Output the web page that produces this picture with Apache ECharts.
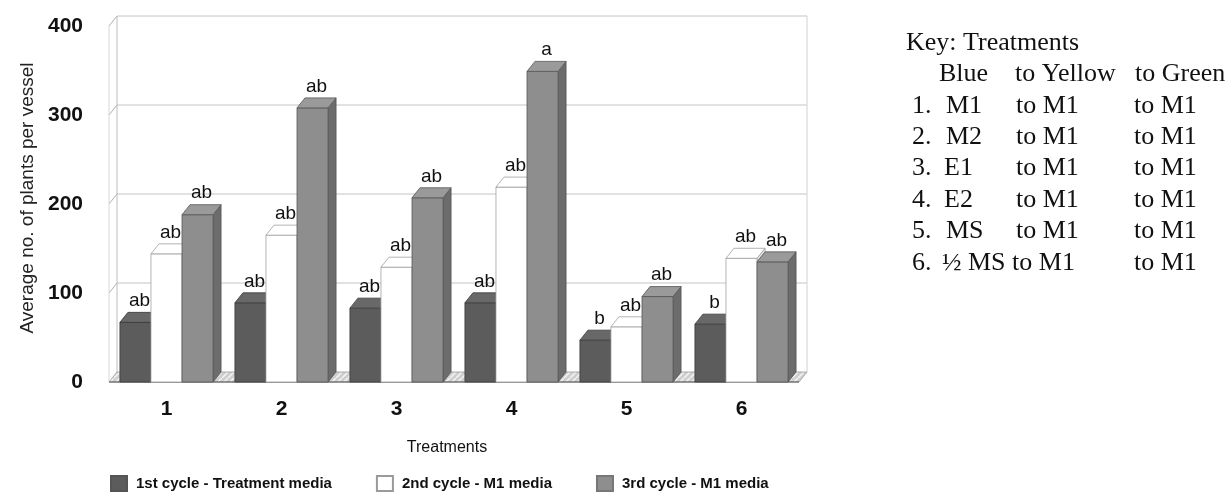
<!DOCTYPE html>
<html>
<head>
<meta charset="utf-8">
<script src="https://cdn.jsdelivr.net/npm/echarts@6/dist/echarts.min.js"></script>
<style>
  html, body { margin: 0; padding: 0; background: #fff; }
  #chart { width: 1229px; height: 496px; }
</style>
</head>
<body>
<div id="chart"></div>
<script>
// Treatments on the x axis
const categories = ['1', '2', '3', '4', '5', '6'];

// Average number of plants per vessel, one array per culture cycle
const cycle1 = [67, 89, 83, 89, 47, 65];
const cycle2 = [144, 165, 129, 219, 62, 139];
const cycle3 = [188, 308, 207, 349, 96, 135];

// Significance letters printed above each column
const letters1 = ['ab', 'ab', 'ab', 'ab', 'b', 'b'];
const letters2 = ['ab', 'ab', 'ab', 'ab', 'ab', 'ab'];
const letters3 = ['ab', 'ab', 'ab', 'a', 'ab', 'ab'];

const seriesNames = ['1st cycle - Treatment media', '2nd cycle - M1 media', '3rd cycle - M1 media'];
const yTicks = [0, 100, 200, 300, 400];

// Treatment key shown beside the chart
const keyTitle = 'Key: Treatments';
const keyHeader = ['Blue', 'to Yellow', 'to Green'];
const keyRows = [
  ['1.', 'M1', 'to M1', 'to M1'],
  ['2.', 'M2', 'to M1', 'to M1'],
  ['3.', 'E1', 'to M1', 'to M1'],
  ['4.', 'E2', 'to M1', 'to M1'],
  ['5.', 'MS', 'to M1', 'to M1'],
  ['6.', '\u00BD MS to M1', '', 'to M1']
];

// depth offset used for the pseudo-3D look
const DX = 8, DY = -10;

const palettes = [
  { front: '#5c5c5c', top: '#686868', side: '#454545', stroke: '#3a3a3a' },
  { front: '#ffffff', top: '#ffffff', side: '#e8e8e8', stroke: '#a0a0a0' },
  { front: '#8e8e8e', top: '#9a9a9a', side: '#6c6c6c', stroke: '#555555' }
];

const sans = '"Liberation Sans", Arial, sans-serif';

// hatched fill for the floor of the plot box
const hatch = document.createElement('canvas');
hatch.width = 6; hatch.height = 6;
(function () {
  const c = hatch.getContext('2d');
  c.fillStyle = '#cfcfcf';
  c.fillRect(0, 0, 6, 6);
  c.strokeStyle = '#f4f4f4';
  c.lineWidth = 1.5;
  c.beginPath();
  c.moveTo(0, 6); c.lineTo(6, 0);
  c.stroke();
})();

function boxRenderer(slot, letters) {
  const pal = palettes[slot];
  return function (params, api) {
    const cat = api.value(0);
    const v = api.value(1);
    const base = api.coord([cat, 0]);
    const top = api.coord([cat, v]);
    const band = api.size([1, 0])[0];
    const w = band * 0.27;
    const cx = base[0] + (slot - 1) * w;
    const x0 = cx - w / 2, x1 = cx + w / 2;
    const yb = base[1], yt = top[1];
    const lw = 0.8;
    return {
      type: 'group',
      children: [
        { type: 'polygon', shape: { points: [[x1, yt], [x1 + DX, yt + DY], [x1 + DX, yb + DY], [x1, yb]] },
          style: { fill: pal.side, stroke: pal.stroke, lineWidth: lw } },
        { type: 'rect', shape: { x: x0, y: yt, width: w, height: yb - yt },
          style: { fill: pal.front, stroke: pal.stroke, lineWidth: lw } },
        { type: 'polygon', shape: { points: [[x0, yt], [x0 + DX, yt + DY], [x1 + DX, yt + DY], [x1, yt]] },
          style: { fill: pal.top, stroke: pal.stroke, lineWidth: lw } },
        { type: 'text', style: { text: letters[params.dataIndex], x: cx + DX / 2, y: yt + DY - 2,
          align: 'center', verticalAlign: 'bottom', fill: '#111',
          font: '19px ' + sans } }
      ]
    };
  };
}

// back wall, side wall and floor of the plot box
function wallRenderer(params, api) {
  const cs = params.coordSys;
  const gx = cs.x, gw = cs.width;
  const y0 = api.coord([0, 0])[1];
  const children = [];
  children.push({ type: 'polygon',
    shape: { points: [[gx, y0], [gx + gw, y0], [gx + gw + DX, y0 + DY], [gx + DX, y0 + DY]] },
    style: { fill: { image: hatch, repeat: 'repeat' }, stroke: '#9a9a9a', lineWidth: 0.8 } });
  yTicks.forEach(function (t) {
    const y = api.coord([0, t])[1];
    if (t > 0) {
      children.push({ type: 'line', shape: { x1: gx + DX, y1: y + DY, x2: gx + gw + DX, y2: y + DY },
        style: { stroke: '#c4c4c4', lineWidth: 1 } });
      children.push({ type: 'line', shape: { x1: gx, y1: y, x2: gx + DX, y2: y + DY },
        style: { stroke: '#b0b0b0', lineWidth: 1 } });
    }
  });
  const yTop = api.coord([0, yTicks[yTicks.length - 1]])[1];
  children.push({ type: 'line', shape: { x1: gx + DX, y1: y0 + DY, x2: gx + DX, y2: yTop + DY },
    style: { stroke: '#bdbdbd', lineWidth: 1 } });
  children.push({ type: 'line', shape: { x1: gx + gw + DX, y1: y0 + DY, x2: gx + gw + DX, y2: yTop + DY },
    style: { stroke: '#d0d0d0', lineWidth: 1 } });
  children.push({ type: 'line', shape: { x1: gx, y1: y0, x2: gx, y2: yTop },
    style: { stroke: '#d8d8d8', lineWidth: 1 } });
  children.push({ type: 'line', shape: { x1: gx, y1: y0, x2: gx + gw, y2: y0 },
    style: { stroke: '#555', lineWidth: 1.2 } });
  return { type: 'group', children: children };
}

const toData = arr => arr.map((v, i) => [i, v]);

// key text drawn as graphic elements
const keyFont = '26px "Liberation Serif", "Times New Roman", serif';
const keyGraphics = [];
const rowY = i => 43 + 31.4 * i;            // centre line of each key row
const colX = [912, 946, 1016, 1134];
const nameX = { 'E1': 944, 'E2': 944 };
function keyText(t, x, i) {
  keyGraphics.push({ type: 'text', x: x, y: rowY(i),
    style: { text: t, font: keyFont, fill: '#111', verticalAlign: 'middle', align: 'left' } });
}
keyText(keyTitle, 906, 0);
keyText(keyHeader[0], 939, 1);
keyText(keyHeader[1], 1015, 1);
keyText(keyHeader[2], 1135, 1);
keyRows.forEach((row, i) => {
  row.forEach((t, j) => {
    if (!t) return;
    let x = colX[j];
    if (j === 1 && nameX[t]) x = nameX[t];
    if (j === 1 && i === 5) x = 942;
    keyText(t, x, i + 2);
  });
});

const chart = echarts.init(document.getElementById('chart'), null, { renderer: 'canvas' });
chart.setOption({
  backgroundColor: '#ffffff',
  animation: false,
  grid: { left: 109, right: 430, top: 26, bottom: 114 },
  legend: {
    left: 110, top: 475, padding: 0, itemGap: 44, itemWidth: 16, itemHeight: 15, icon: 'rect',
    data: seriesNames,
    textStyle: { fontFamily: sans, fontWeight: 'bold', fontSize: 15, color: '#111', padding: [0, 0, 0, 4] }
  },
  xAxis: {
    type: 'category', data: categories,
    name: 'Treatments', nameLocation: 'middle', nameGap: 58,
    nameTextStyle: { fontFamily: sans, fontSize: 16, color: '#111', padding: [0, 14, 0, 0] },
    axisLine: { show: false }, axisTick: { show: false },
    axisLabel: { margin: 17, fontFamily: sans, fontWeight: 'bold', fontSize: 21, color: '#111' }
  },
  yAxis: {
    type: 'value', min: 0, max: 400, interval: 100,
    name: 'Average no. of plants per vessel', nameLocation: 'middle', nameGap: 72, nameRotate: 90,
    nameTextStyle: { fontFamily: sans, fontSize: 19, color: '#222', padding: [0, 0, 0, 12] },
    axisLine: { show: false }, axisTick: { show: false }, splitLine: { show: false },
    axisLabel: { margin: 26, fontFamily: sans, fontWeight: 'bold', fontSize: 21, color: '#111' }
  },
  graphic: keyGraphics,
  series: [
    { type: 'custom', name: 'wall', z: 1, silent: true, renderItem: wallRenderer, data: [[0, 0]] },
    { type: 'custom', name: seriesNames[0], z: 2, renderItem: boxRenderer(0, letters1), data: toData(cycle1),
      itemStyle: { color: palettes[0].front, borderColor: '#555', borderWidth: 0.5 } },
    { type: 'custom', name: seriesNames[1], z: 3, renderItem: boxRenderer(1, letters2), data: toData(cycle2),
      itemStyle: { color: '#ffffff', borderColor: '#9a9a9a', borderWidth: 1 } },
    { type: 'custom', name: seriesNames[2], z: 4, renderItem: boxRenderer(2, letters3), data: toData(cycle3),
      itemStyle: { color: palettes[2].front, borderColor: '#777', borderWidth: 0.5 } }
  ]
});
</script>
</body>
</html>
